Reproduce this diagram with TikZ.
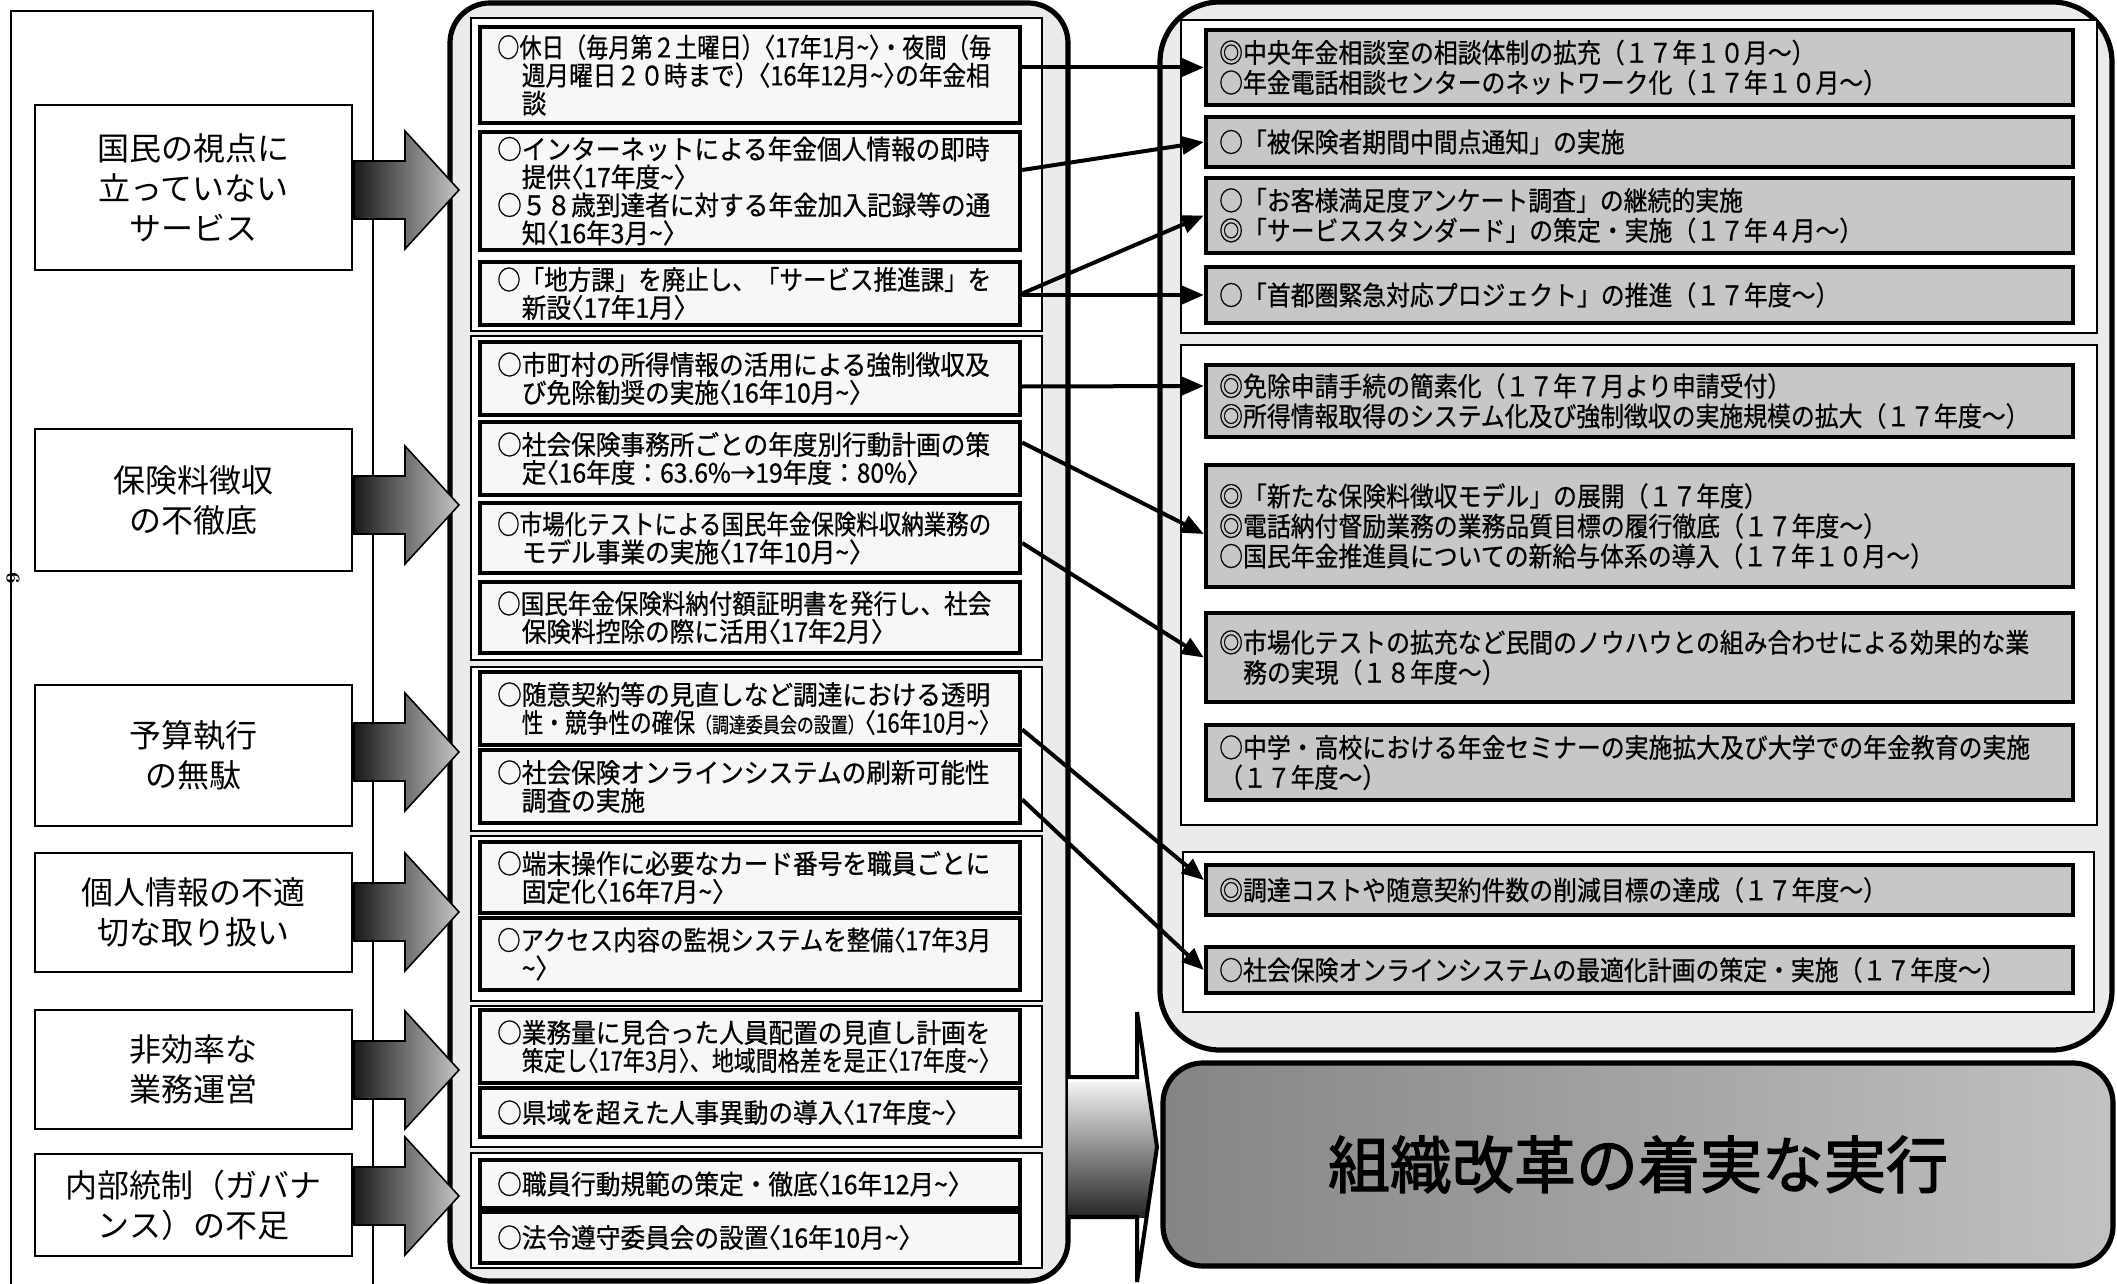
\documentclass[tikz,border=0pt]{standalone}
\usepackage{fontspec}
\usepackage{graphicx}
\usetikzlibrary{calc,fit,arrows.meta}
\newfontfamily\jpl{Noto Sans CJK JP}
\newfontfamily\jpm[FakeStretch=0.92,FakeBold=0.7]{Noto Sans CJK JP}
\newfontfamily\jpr[FakeStretch=0.89,FakeBold=0.7]{Noto Sans CJK JP}
\newfontfamily\jpb[FakeBold=2]{Noto Sans CJK JP}
\newsavebox\lnbox
\newcommand\Ln[2]{\sbox\lnbox{#2}\ifdim\wd\lnbox>#1\relax\edef\lnw{\the\wd\lnbox}\pgfmathsetmacro\lnsf{#1/\lnw}\scalebox{\lnsf}[1]{\usebox\lnbox}\else\usebox\lnbox\fi}
\newcommand\Lf[1]{\Ln{247pt}{#1}}
\newcommand\Lc[1]{\hspace*{12.3pt}\Ln{234pt}{#1}}
\newcommand\tld{\textasciitilde}
\newcommand\smtxt{\fontsize{10.5pt}{12pt}\selectfont}
\newcommand\dt[1]{{\addfontfeature{RawFeature=+halt}〈}#1{\addfontfeature{RawFeature=+halt}〉}}
\begin{document}
\begin{tikzpicture}[x=0.5pt,y=-0.5pt,
 lframe/.style={draw, line width=1.4pt, inner sep=0pt},
 lbox/.style={draw, line width=1.1pt, fill=white, inner sep=0pt},
 ltext/.style={font=\jpl\fontsize{16pt}{20pt}\selectfont, align=center, inner sep=0pt},
 mouter/.style={draw, line width=2.6pt, fill=black!8, rounded corners=20pt, inner sep=0pt},
 mgroup/.style={draw, line width=0.9pt, fill=white, inner sep=0pt},
 mbox/.style={draw, line width=2.2pt, fill=black!3, inner sep=0pt},
 mtext/.style={font=\jpm\fontsize{13.4pt}{14pt}\selectfont, align=left, inner sep=0pt, anchor=west},
 router/.style={draw, line width=2.6pt, fill=black!8, rounded corners=30pt, inner sep=0pt},
 rgroup/.style={draw, line width=0.9pt, fill=white, inner sep=0pt},
 rbox/.style={draw, line width=2.2pt, fill=black!22, inner sep=0pt},
 rtext/.style={font=\jpr\fontsize{13.4pt}{15pt}\selectfont, align=left, inner sep=0pt, anchor=west},
 conn/.style={line width=2pt, -{Triangle[length=11pt,width=9pt]}},
 barrow/.style={left color=black!90, right color=black!22, draw=black, line width=0.8pt}
]
\useasboundingbox (0,0) rectangle (2117,1284);
\fill[white] (0,0) rectangle (2117,1284);

% ---------- left column ----------
\node[lframe, fit={(11,11)(373,1300)}] (frame) {};
\node[rotate=-90, font=\bfseries\fontsize{10pt}{10pt}\selectfont, inner sep=0pt] (pg) at (13,578) {- 6 -};

\node[lbox, fit={(35,105)(352,270)}] (L1) {};
\node[ltext] (L1t) at (L1.center) {国民の視点に\\立っていない\\サービス};
\node[lbox, fit={(35,429)(352,571)}] (L2) {};
\node[ltext] (L2t) at (L2.center) {保険料徴収\\の不徹底};
\node[lbox, fit={(35,685)(352,826)}] (L3) {};
\node[ltext] (L3t) at (L3.center) {予算執行\\の無駄};
\node[lbox, fit={(35,853)(352,972)}] (L4) {};
\node[ltext] (L4t) at (L4.center) {個人情報の不適\\切な取り扱い};
\node[lbox, fit={(35,1010)(352,1129)}] (L5) {};
\node[ltext] (L5t) at (L5.center) {非効率な\\業務運営};
\node[lbox, fit={(35,1154)(352,1256)}] (L6) {};
\node[ltext] (L6t) at (L6.center) {内部統制（ガバナ\\ンス）の不足};

% ---------- middle column ----------
\node[mouter, fit={(450,3)(1068,1281)}] (mid) {};
\node[mgroup, fit={(471,18)(1042,331)}] (MG1) {};
\node[mgroup, fit={(471,336)(1042,660)}] (MG2) {};
\node[mgroup, fit={(471,667)(1042,831)}] (MG3) {};
\node[mgroup, fit={(471,836)(1042,1001)}] (MG4) {};
\node[mgroup, fit={(471,1006)(1042,1147)}] (MG5) {};
\node[mgroup, fit={(471,1153)(1042,1268)}] (MG6) {};

\node[mbox, fit={(480,27)(1020,123)}] (A) {};
\node[mtext] (At) at ($(A.west)+(19,0)$) {\Lf{○休日（毎月第２土曜日）\dt{17年1月\tld}・夜間（毎}\\\Lc{週月曜日２０時まで）\dt{16年12月\tld}の年金相}\\\Lc{談}};
\node[mbox, fit={(480,132)(1020,250)}] (B) {};
\node[mtext] (Bt) at ($(B.west)+(19,0)$) {\Lf{○インターネットによる年金個人情報の即時}\\\Lc{提供\dt{17年度\tld}}\\\Lf{○５８歳到達者に対する年金加入記録等の通}\\\Lc{知\dt{16年3月\tld}}};
\node[mbox, fit={(480,262)(1020,325)}] (C) {};
\node[mtext] (Ct) at ($(C.west)+(19,0)$) {\Lf{○「地方課」を廃止し、「サービス推進課」を}\\\Lc{新設\dt{17年1月}}};

\node[mbox, fit={(480,342)(1020,415)}] (D) {};
\node[mtext] (Dt) at ($(D.west)+(19,0)$) {\Lf{○市町村の所得情報の活用による強制徴収及}\\\Lc{び免除勧奨の実施\dt{16年10月\tld}}};
\node[mbox, fit={(480,422)(1020,495)}] (E) {};
\node[mtext] (Et) at ($(E.west)+(19,0)$) {\Lf{○社会保険事務所ごとの年度別行動計画の策}\\\Lc{定\dt{16年度：63.6\%→19年度：80\%}}};
\node[mbox, fit={(480,503)(1020,573)}] (F) {};
\node[mtext] (Ft) at ($(F.west)+(19,0)$) {\Lf{○市場化テストによる国民年金保険料収納業務の}\\\Lc{モデル事業の実施\dt{17年10月\tld}}};
\node[mbox, fit={(480,582)(1020,653)}] (G) {};
\node[mtext] (Gt) at ($(G.west)+(19,0)$) {\Lf{○国民年金保険料納付額証明書を発行し、社会}\\\Lc{保険料控除の際に活用\dt{17年2月}}};

\node[mbox, fit={(480,672)(1020,745)}] (H) {};
\node[mtext] (Ht) at ($(H.west)+(19,0)$) {\Lf{○随意契約等の見直しなど調達における透明}\\\Lc{性・競争性の確保{\smtxt（調達委員会の設置）}\dt{16年10月\tld}}};
\node[mbox, fit={(480,750)(1020,823)}] (I) {};
\node[mtext] (It) at ($(I.west)+(19,0)$) {\Lf{○社会保険オンラインシステムの刷新可能性}\\\Lc{調査の実施}};

\node[mbox, fit={(480,842)(1020,913)}] (J) {};
\node[mtext] (Jt) at ($(J.west)+(19,0)$) {\Lf{○端末操作に必要なカード番号を職員ごとに}\\\Lc{固定化\dt{16年7月\tld}}};
\node[mbox, fit={(480,918)(1020,990)}] (K) {};
\node[mtext] (Kt) at ($(K.west)+(19,0)$) {\Lf{○アクセス内容の監視システムを整備{\addfontfeature{RawFeature=+halt}〈}17年3月}\\\Lc{\tld{\addfontfeature{RawFeature=+halt}〉}}};

\node[mbox, fit={(480,1010)(1020,1083)}] (L) {};
\node[mtext] (Lt) at ($(L.west)+(19,0)$) {\Lf{○業務量に見合った人員配置の見直し計画を}\\\Lc{策定し\dt{17年3月}、地域間格差を是正\dt{17年度\tld}}};
\node[mbox, fit={(480,1088)(1020,1137)}] (M) {};
\node[mtext] (Mt) at ($(M.west)+(19,0)$) {\Lf{○県域を超えた人事異動の導入\dt{17年度\tld}}};

\node[mbox, fit={(480,1160)(1020,1208)}] (N) {};
\node[mtext] (Nt) at ($(N.west)+(19,0)$) {\Lf{○職員行動規範の策定・徹底\dt{16年12月\tld}}};
\node[mbox, fit={(480,1212)(1020,1263)}] (O) {};
\node[mtext] (Ot) at ($(O.west)+(19,0)$) {\Lf{○法令遵守委員会の設置\dt{16年10月\tld}}};

% ---------- right column ----------
\node[router, fit={(1160,2)(2112,1050)}] (right) {};
\node[rgroup, fit={(1181,20)(2097,333)}] (RG1) {};
\node[rgroup, fit={(1181,345)(2097,825)}] (RG2) {};
\node[rgroup, fit={(1183,852)(2094,1012)}] (RG3) {};

\node[rbox, fit={(1206,30)(2073,105)}] (R1) {};
\node[rtext] (R1t) at ($(R1.west)+(15,0)$) {◎中央年金相談室の相談体制の拡充（１７年１０月～）\\○年金電話相談センターのネットワーク化（１７年１０月～）};
\node[rbox, fit={(1206,117)(2073,167)}] (R2) {};
\node[rtext] (R2t) at ($(R2.west)+(15,0)$) {○「被保険者期間中間点通知」の実施};
\node[rbox, fit={(1206,178)(2073,253)}] (R3) {};
\node[rtext] (R3t) at ($(R3.west)+(15,0)$) {○「お客様満足度アンケート調査」の継続的実施\\◎「サービススタンダード」の策定・実施（１７年４月～）};
\node[rbox, fit={(1206,267)(2073,323)}] (R4) {};
\node[rtext] (R4t) at ($(R4.west)+(15,0)$) {○「首都圏緊急対応プロジェクト」の推進（１７年度～）};

\node[rbox, fit={(1206,365)(2073,437)}] (R5) {};
\node[rtext] (R5t) at ($(R5.west)+(15,0)$) {◎免除申請手続の簡素化（１７年７月より申請受付）\\◎所得情報取得のシステム化及び強制徴収の実施規模の拡大（１７年度～）};
\node[rbox, fit={(1206,465)(2073,587)}] (R6) {};
\node[rtext] (R6t) at ($(R6.west)+(15,0)$) {◎「新たな保険料徴収モデル」の展開（１７年度）\\◎電話納付督励業務の業務品質目標の履行徹底（１７年度～）\\○国民年金推進員についての新給与体系の導入（１７年１０月～）};
\node[rbox, fit={(1206,613)(2073,702)}] (R7) {};
\node[rtext] (R7t) at ($(R7.west)+(15,0)$) {◎市場化テストの拡充など民間のノウハウとの組み合わせによる効果的な業\\\hspace*{12pt}務の実現（１８年度～）};
\node[rbox, fit={(1206,725)(2073,800)}] (R8) {};
\node[rtext] (R8t) at ($(R8.west)+(15,0)$) {○中学・高校における年金セミナーの実施拡大及び大学での年金教育の実施\\（１７年度～）};

\node[rbox, fit={(1206,865)(2073,915)}] (R9) {};
\node[rtext] (R9t) at ($(R9.west)+(15,0)$) {◎調達コストや随意契約件数の削減目標の達成（１７年度～）};
\node[rbox, fit={(1206,947)(2073,993)}] (R10) {};
\node[rtext] (R10t) at ($(R10.west)+(15,0)$) {○社会保険オンラインシステムの最適化計画の策定・実施（１７年度～）};

% ---------- bottom goal box ----------
\node[draw, line width=2.6pt, rounded corners=20pt, left color=black!48, right color=black!24, inner sep=0pt, fit={(1163,1063)(2113,1266)}] (goal) {};
\node[font=\jpb\fontsize{31pt}{31pt}\selectfont, inner sep=0pt] (goalt) at (goal.center) {組織改革の着実な実行};

% ---------- big arrow to goal ----------
\begin{scope}
\path[clip] (1068,1077) -- (1137,1077) -- (1137,1012) -- (1157,1147) -- (1137,1282) -- (1137,1217) -- (1068,1217) -- cycle;
\fill[white] (1060,1000) rectangle (1170,1290);
\shade[top color=black!5, bottom color=black!85] (1068,1082) rectangle (1160,1217);
\end{scope}
\draw[line width=2pt, line join=miter] (1068,1077) -- (1137,1077) -- (1137,1012) -- (1157,1147) -- (1137,1282) -- (1137,1217) -- (1068,1217);

% ---------- block arrows from left boxes ----------
\foreach \yy in {190,505,752,912,1070,1196} {
  \shadedraw[barrow] (354,\yy-29) -- (405,\yy-29) -- (405,\yy-59) -- (459,\yy) -- (405,\yy+59) -- (405,\yy+29) -- (354,\yy+29) -- cycle;
}

% ---------- connectors ----------
\draw[conn] (A.east |- R1.west) -- (R1.west);
\draw[conn] ($(B.east)+(0,-21)$) -- (R2.west);
\draw[conn] (C.east) -- (R3.west);
\draw[conn] (C.east |- R4.west) -- (R4.west);
\draw[conn] ($(D.east)+(0,8)$) -- ($(R5.west)+(0,-15)$);
\draw[conn] ($(E.east)+(0,-16)$) -- ($(R6.west)+(0,8)$);
\draw[conn] ($(F.east)+(0,5)$) -- (R7.west);
\draw[conn] ($(H.east)+(0,21)$) -- ($(R9.west)+(0,-10)$);
\draw[conn] ($(I.east)+(0,13)$) -- (R10.west);
\end{tikzpicture}
\end{document}
